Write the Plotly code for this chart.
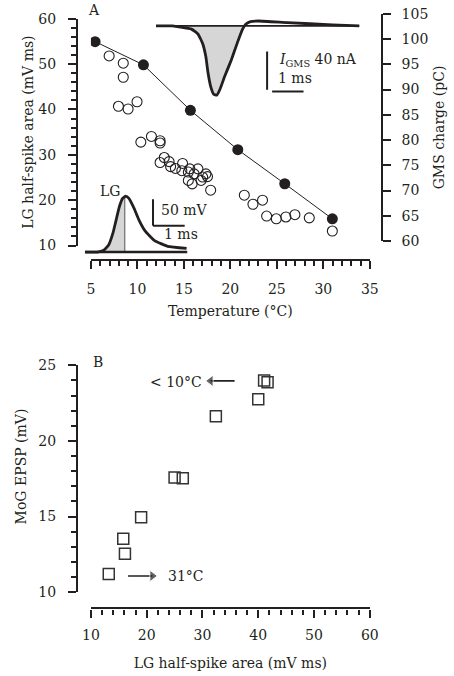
import plotly.graph_objects as go

W, H = 454, 676
def fx(p): return p / W
def fy(p): return 1 - p / H

FONT = "DejaVu Serif"
INK = "#231f20"
GRAY = "#d6d6d6"

# ---- Panel A data ----
temp_open = [6.96, 8.48, 8.48, 7.96, 9.0, 9.96, 10.37, 11.51, 12.44, 12.44, 12.89, 12.44, 13.41, 13.57,
             14.09, 14.86, 14.78, 15.48, 15.64, 16.51, 16.1, 15.89, 15.48, 16.85, 17.37, 17.54, 17.02,
             17.88, 21.5, 22.43, 23.46, 23.9, 24.94, 25.97, 26.94, 28.49, 30.97]
area_open = [51.8, 50.2, 47.1, 40.7, 40.1, 41.7, 32.8, 34.05, 33.1, 32.6, 29.4, 28.3, 28.5, 27.4,
             27.0, 28.1, 26.5, 26.2, 26.9, 26.9, 25.8, 23.6, 24.35, 24.35, 25.8, 25.2, 25.1,
             22.2, 21.1, 19.1, 20.0, 16.5, 15.9, 16.3, 16.8, 16.1, 13.2]
temp_fill = [5.45, 10.65, 15.7, 20.8, 25.85, 30.97]
gms_charge = [99.5, 94.9, 85.9, 78.1, 71.35, 64.4]

# GMS current inset (ms, nA)
gms_t = [0, 0.52, 0.72, 1.13, 1.34, 1.49, 1.59, 1.66, 1.74, 1.84, 1.94, 2.04, 2.19, 2.40, 2.60, 2.76,
         2.86, 3.01, 3.27, 4.19, 5.62, 6.48]
gms_i = [0, 0, -1.1, -3.4, -8.6, -18.8, -32.5, -49.6, -63.2, -71.8, -72.8, -66.6, -53.0, -35.8, -17.1,
         -3.5, 1.7, 4.4, 5.1, 3.4, 1.1, 0]
gms_neg_t = [0.52, 0.72, 1.13, 1.34, 1.49, 1.59, 1.66, 1.74, 1.84, 1.94, 2.04, 2.19, 2.40, 2.60, 2.76, 2.82]
gms_neg_i = [0, -1.1, -3.4, -8.6, -18.8, -32.5, -49.6, -63.2, -71.8, -72.8, -66.6, -53.0, -35.8, -17.1, -3.5, 0]
gms_base_t = [0, 6.48]
gms_bar_t = [3.54, 3.54]
gms_bar_i = [-27, -67]
gms_hbar_t = [3.70, 4.70]
gms_hbar_i = [-69, -69]

# LG spike inset (ms, mV)
lg_t = [0, 0.39, 0.58, 0.74, 0.89, 0.99, 1.09, 1.19, 1.29, 1.39, 1.55, 1.70, 1.90, 2.20, 2.61, 3.21]
lg_v = [0, 0, 3.1, 12.4, 37.0, 61.7, 86.5, 101.9, 106.1, 101.9, 83.3, 61.7, 40.2, 21.7, 11.0, 7.0]
lg_fill_t = [0.39, 0.58, 0.74, 0.89, 0.99, 1.09, 1.19, 1.26]
lg_fill_v = [0, 3.1, 12.4, 37.0, 61.7, 86.5, 101.9, 105.5]
lg_peak_t = [1.26, 1.26]
lg_peak_v = [0, 105.5]
lg_base_t = [0, 3.23]
lg_bar_t = [2.15, 2.15]
lg_bar_v = [50, 100]
lg_hbar_t = [2.15, 3.15]
lg_hbar_v = [50, 50]

# ---- Panel B data ----
area_b = [41.05, 41.67, 40.0, 32.4, 25.0, 26.47, 19.0, 15.8, 16.1, 13.2]
epsp_b = [23.99, 23.88, 22.76, 21.64, 17.58, 17.53, 14.95, 13.53, 12.54, 11.2]
# annotation arrows (tail -> head) in panel B data units
arrow_cold_x = [35.76, 31.46]
arrow_cold_y = [23.97, 23.97]
arrow_hot_x = [16.66, 21.02]
arrow_hot_y = [11.07, 11.07]

fig = go.Figure()

# Panel A main
fig.add_trace(go.Scatter(x=temp_open, y=area_open, mode="markers", xaxis="x", yaxis="y",
                         marker=dict(symbol="circle-open", size=10, color=INK, line=dict(width=1.1, color=INK)),
                         showlegend=False))
fig.add_trace(go.Scatter(x=temp_fill, y=gms_charge, mode="lines+markers", xaxis="x", yaxis="y2",
                         line=dict(color=INK, width=1),
                         marker=dict(symbol="circle", size=11, color=INK), showlegend=False))

# GMS inset
fig.add_trace(go.Scatter(x=gms_neg_t, y=gms_neg_i, mode="lines", xaxis="x3", yaxis="y3", fill="tozeroy",
                         fillcolor=GRAY, line=dict(width=0, shape="spline", smoothing=0.4), showlegend=False))
fig.add_trace(go.Scatter(x=gms_base_t, y=[0, 0], mode="lines", xaxis="x3", yaxis="y3",
                         line=dict(color=INK, width=1.8), showlegend=False))
fig.add_trace(go.Scatter(x=gms_t, y=gms_i, mode="lines", xaxis="x3", yaxis="y3",
                         line=dict(color=INK, width=2.8, shape="spline", smoothing=0.4), showlegend=False))
fig.add_trace(go.Scatter(x=gms_bar_t, y=gms_bar_i, mode="lines", xaxis="x3", yaxis="y3",
                         line=dict(color=INK, width=2), showlegend=False))
fig.add_trace(go.Scatter(x=gms_hbar_t, y=gms_hbar_i, mode="lines", xaxis="x3", yaxis="y3",
                         line=dict(color=INK, width=2), showlegend=False))

# LG inset
fig.add_trace(go.Scatter(x=lg_fill_t, y=lg_fill_v, mode="lines", xaxis="x4", yaxis="y4", fill="tozeroy",
                         fillcolor=GRAY, line=dict(width=0, shape="spline", smoothing=0.4), showlegend=False))
fig.add_trace(go.Scatter(x=lg_peak_t, y=lg_peak_v, mode="lines", xaxis="x4", yaxis="y4",
                         line=dict(color="#555555", width=1), showlegend=False))
fig.add_trace(go.Scatter(x=lg_base_t, y=[0, 0], mode="lines", xaxis="x4", yaxis="y4",
                         line=dict(color=INK, width=2.5), showlegend=False))
fig.add_trace(go.Scatter(x=lg_t, y=lg_v, mode="lines", xaxis="x4", yaxis="y4",
                         line=dict(color=INK, width=2.8, shape="spline", smoothing=0.4), showlegend=False))
fig.add_trace(go.Scatter(x=lg_bar_t, y=lg_bar_v, mode="lines", xaxis="x4", yaxis="y4",
                         line=dict(color=INK, width=2), showlegend=False))
fig.add_trace(go.Scatter(x=lg_hbar_t, y=lg_hbar_v, mode="lines", xaxis="x4", yaxis="y4",
                         line=dict(color=INK, width=2), showlegend=False))

# Panel B
fig.add_trace(go.Scatter(x=area_b, y=epsp_b, mode="markers", xaxis="x5", yaxis="y5",
                         marker=dict(symbol="square-open", size=11, color="#333333",
                                     line=dict(width=1.5, color="#333333")),
                         showlegend=False))
fig.add_trace(go.Scatter(x=arrow_cold_x, y=arrow_cold_y, mode="lines+markers", xaxis="x5", yaxis="y5",
                         line=dict(color=INK, width=1.6),
                         marker=dict(symbol=["circle", "triangle-left"], size=[0, 10], color=INK),
                         showlegend=False, cliponaxis=False))
fig.add_trace(go.Scatter(x=arrow_hot_x, y=arrow_hot_y, mode="lines+markers", xaxis="x5", yaxis="y5",
                         line=dict(color=INK, width=1.6),
                         marker=dict(symbol=["circle", "triangle-right"], size=[0, 10], color=INK),
                         showlegend=False, cliponaxis=False))

tf = dict(family=FONT, size=14, color=INK)
common = dict(showline=True, linecolor=INK, linewidth=2.4, ticks="outside", tickwidth=2, ticklen=8,
              tickcolor=INK, tickfont=tf, showgrid=False, zeroline=False, fixedrange=True)

fig.update_layout(
    width=W, height=H, autosize=False, margin=dict(l=0, r=0, t=0, b=0),
    paper_bgcolor="white", plot_bgcolor="rgba(0,0,0,0)", font=tf, showlegend=False,
    xaxis=dict(**common, domain=[fx(85.3), fx(375.7)], range=[5, 35], anchor="free", position=fy(258),
               dtick=5, tick0=5, ticklabelstandoff=8,
               minor=dict(dtick=1, ticks="outside", ticklen=5, tickwidth=1.5, tickcolor=INK),
               title=dict(text="Temperature (°C)", font=tf, standoff=9)),
    yaxis=dict(**common, domain=[fy(243.3), fy(11)], range=[10, 60], anchor="free", position=fx(71),
               dtick=10, ticklabelstandoff=9,
               minor=dict(dtick=2, ticks="outside", ticklen=5, tickwidth=1.5, tickcolor=INK),
               title=dict(text="LG half-spike area (mV ms)", font=tf, standoff=0)),
    yaxis2=dict(**common, domain=[fy(238.7), fy(6)], range=[60, 105], anchor="free", position=fx(388),
                side="right", dtick=5, ticklabelstandoff=8,
                title=dict(text="GMS charge (pC)", font=tf, standoff=6)),
    xaxis3=dict(visible=False, domain=[fx(153), fx(365)], range=[0, 212 / 32.7], anchor="y3", fixedrange=True),
    yaxis3=dict(visible=False, domain=[fy(95), fy(5)], range=[-(95 - 18.3) / 0.975, (18.3 - 5) / 0.975],
                anchor="x3", fixedrange=True),
    xaxis4=dict(visible=False, domain=[fx(79), fx(190)], range=[0, 111 / 33], anchor="y4", fixedrange=True),
    yaxis4=dict(visible=False, domain=[fy(252), fy(180)], range=[-2 / 0.54, 70 / 0.54], anchor="x4",
                fixedrange=True),
    xaxis5=dict(**common, domain=[fx(85.3), fx(375.7)], range=[10, 60], anchor="free", position=fy(615),
                dtick=10, ticklabelstandoff=6,
                minor=dict(dtick=2, ticks="outside", ticklen=5, tickwidth=1.5, tickcolor=INK),
                title=dict(text="LG half-spike area (mV ms)", font=tf, standoff=15)),
    yaxis5=dict(**common, domain=[fy(598.3), fy(366)], range=[10, 25], anchor="free", position=fx(71),
                dtick=5, ticklabelstandoff=9,
                minor=dict(dtick=1, ticks="outside", ticklen=5, tickwidth=1.5, tickcolor=INK)),
)

ann = [
    dict(text="A", x=fx(88.5), y=fy(12), xref="paper", yref="paper", showarrow=False, font=tf,
         xanchor="center", yanchor="bottom"),
    dict(text="B", x=fx(92.7), y=fy(362.7), xref="paper", yref="paper", showarrow=False, font=tf,
         xanchor="center", yanchor="middle"),
    dict(text="MoG EPSP (mV)", x=fx(12), y=fy(470), xref="paper", yref="paper", showarrow=False, font=tf,
         textangle=-90, xanchor="center", yanchor="middle"),
    # GMS inset labels
    dict(text="<i>I</i><sub>GMS</sub> 40 nA", x=3.84, y=-35.9, xref="x3", yref="y3", showarrow=False, font=tf,
         xanchor="left", yanchor="middle"),
    dict(text="1 ms", x=3.82, y=-55, xref="x3", yref="y3", showarrow=False, font=tf,
         xanchor="left", yanchor="middle"),
    # LG inset labels
    dict(text="LG", x=0.80, y=116, xref="x4", yref="y4", showarrow=False, font=tf,
         xanchor="center", yanchor="middle"),
    dict(text="50 mV", x=2.33, y=80, xref="x4", yref="y4", showarrow=False, font=tf,
         xanchor="left", yanchor="middle"),
    dict(text="1 ms", x=2.42, y=34, xref="x4", yref="y4", showarrow=False, font=tf,
         xanchor="left", yanchor="middle"),
    # Panel B labels
    dict(text="&lt; 10°C", x=30.3, y=23.9, xref="x5", yref="y5", showarrow=False, font=tf,
         xanchor="right", yanchor="middle"),
    dict(text="31°C", x=23.55, y=11.07, xref="x5", yref="y5", showarrow=False, font=tf,
         xanchor="left", yanchor="middle"),
]
fig.update_layout(annotations=ann)

fig.write_html("out.html")
